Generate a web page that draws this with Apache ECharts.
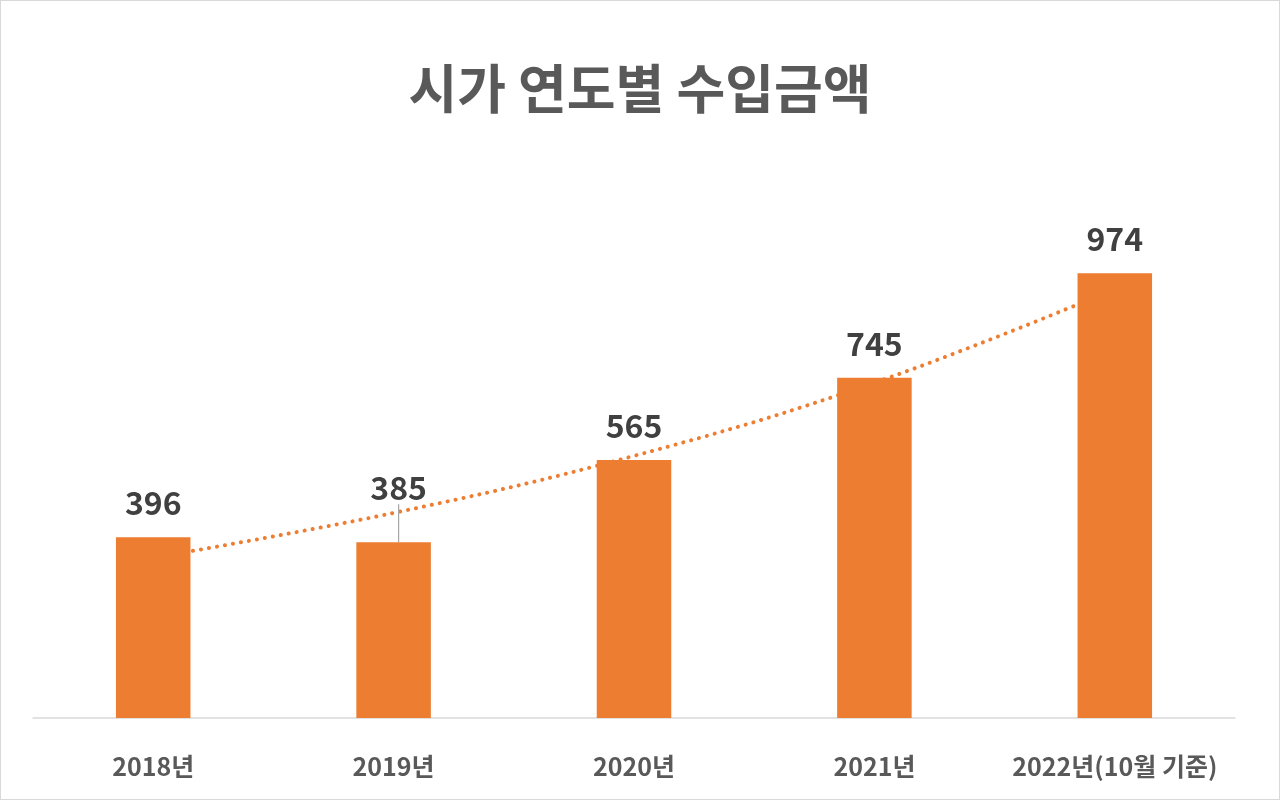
<!DOCTYPE html>
<html>
<head>
<meta charset="utf-8">
<script src="https://cdn.jsdelivr.net/npm/echarts@6/dist/echarts.min.js"></script>
<style>
  html, body { margin: 0; padding: 0; background: #fff; }
  #main { width: 1278px; height: 798px; border: 1px solid #d9d9d9; }
</style>
</head>
<body>
<div id="main"></div>
<script>
// 연도 (x축)
const years = ["2018년", "2019년", "2020년", "2021년", "2022년(10월 기준)"];
// 수입금액
const amounts = [396, 385, 565, 745, 974];
// 추세선
const trend = [351, 449, 574, 734, 939];

const FONT = "'Noto Sans CJK KR', 'Noto Sans', sans-serif";
const ORANGE = "#ED7D31";

const chart = echarts.init(document.getElementById("main"));

chart.setOption({
  animation: false,
  title: {
    text: "시가 연도별 수입금액",
    left: "center",
    top: 56,
    textStyle: { fontFamily: FONT, fontSize: 53, fontWeight: "bold", color: "#595959" }
  },
  grid: { left: 32, right: 44, top: 169, bottom: 81 },
  xAxis: {
    type: "category",
    data: years,
    axisLine: { lineStyle: { color: "#d9d9d9", width: 1.5 } },
    axisTick: { show: false },
    axisLabel: {
      interval: 0,
      margin: 36,
      fontFamily: FONT,
      fontSize: 25,
      fontWeight: "bold",
      color: "#595959"
    }
  },
  yAxis: {
    type: "value",
    min: 0,
    max: 1200,
    show: false,
    splitLine: { show: false }
  },
  series: [
    {
      type: "line",
      data: trend,
      smooth: 0.4,
      symbol: "none",
      z: 1,
      lineStyle: { color: ORANGE, width: 4, type: [0.1, 8], cap: "round" }
    },
    {
      type: "bar",
      z: 2,
      barWidth: "31%",
      itemStyle: { color: ORANGE },
      data: amounts.map((v, i) => i === 1
        ? { value: v, labelLine: { show: true, lineStyle: { color: "#a6a6a6", width: 1.2 } } }
        : v),
      label: {
        show: true,
        position: "top",
        distance: 18,
        fontFamily: FONT,
        fontSize: 32,
        fontWeight: "bold",
        color: "#404040"
      },
      labelLayout: p => p.dataIndex === 1 ? { dx: 5, dy: -20 } : {}
    }
  ]
});
</script>
</body>
</html>
